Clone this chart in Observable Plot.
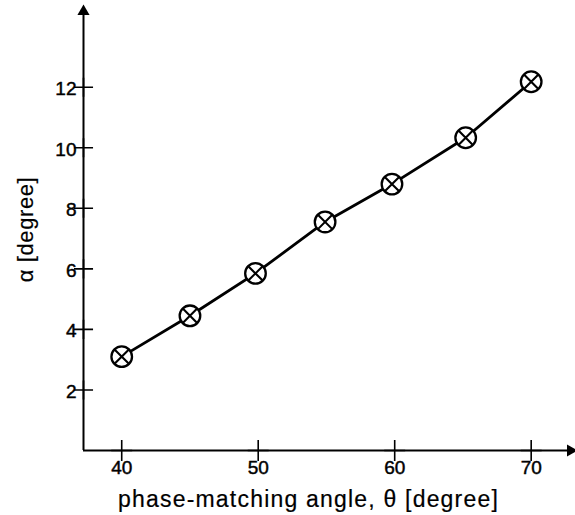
<!DOCTYPE html>
<html><head><meta charset="utf-8">
<script src="https://cdn.jsdelivr.net/npm/d3@7"></script>
<script src="https://cdn.jsdelivr.net/npm/@observablehq/plot@0.6"></script>
<style>
html,body{margin:0;padding:0;background:#fff;}
svg{display:block;}
</style></head>
<body><div id="chart"></div>
<script>
const theta = [40, 45, 49.8, 54.9, 59.8, 65.2, 70];
const alpha = [3.1, 4.45, 5.85, 7.55, 8.8, 10.33, 12.18];
const xTicks = [40, 50, 60, 70];
const yTicks = [2, 4, 6, 8, 10, 12];
const xDomain = [37.2, 73.1];
const yDomain = [0, 14.6];
const xLabel = "phase-matching angle, θ [degree]";
const yLabel = "α [degree]";

const pts = theta.map((t, i) => ({t, a: alpha[i]}));
const font = "'Liberation Sans', Arial, Helvetica, sans-serif";

const chart = Plot.plot({
  width: 575, height: 515,
  marginLeft: 83, marginRight: 2, marginTop: 8, marginBottom: 65,
  style: {fontFamily: font, background: "#fff"},
  x: {domain: xDomain, axis: null},
  y: {domain: yDomain, axis: null},
  marks: [
    Plot.ruleY([yDomain[0]], {stroke: "#000", strokeWidth: 2}),
    Plot.ruleX([xDomain[0]], {stroke: "#000", strokeWidth: 2}),
    Plot.dot([xDomain[1]], {x: d => d, y: yDomain[0], symbol: "triangle", rotate: 90, r: 4.5, fill: "#000", stroke: "none", dx: -3}),
    Plot.dot([yDomain[1]], {x: xDomain[0], y: d => d, symbol: "triangle", r: 4.5, fill: "#000", stroke: "none", dy: 3}),
    Plot.dot(xTicks, {x: d => d, y: yDomain[0], symbol: "plus", r: 6.8, stroke: "#000", strokeWidth: 1.6}),
    Plot.dot(yTicks, {x: xDomain[0], y: d => d, symbol: "plus", r: 6.2, stroke: "#000", strokeWidth: 1.6}),
    Plot.text(xTicks, {x: d => d, y: yDomain[0], text: d => String(d), dy: 17, fontSize: 19, fill: "#000", stroke: "#000", strokeWidth: 0.45}),
    Plot.text(yTicks, {x: xDomain[0], y: d => d, text: d => String(d), dx: -7, dy: 2, textAnchor: "end", fontSize: 19, fill: "#000", stroke: "#000", strokeWidth: 0.45}),
    Plot.line(pts, {x: "t", y: "a", stroke: "#000", strokeWidth: 2.8}),
    Plot.dot(pts, {x: "t", y: "a", r: 10.3, fill: "#fff", stroke: "#000", strokeWidth: 2.3}),
    Plot.dot(pts, {x: "t", y: "a", symbol: "times", r: 6.6, stroke: "#000", strokeWidth: 2.1}),
    Plot.text([xLabel], {x: (xDomain[0] + xDomain[1]) / 2, y: yDomain[0], text: d => d, dy: 49, dx: -20, fontSize: 23, fill: "#000", stroke: "#000", strokeWidth: 0.2}),
    Plot.text([yLabel], {x: xDomain[0], y: (yDomain[0] + yDomain[1]) / 2, text: d => d, dx: -58, rotate: -90, fontSize: 22, fill: "#000", stroke: "#000", strokeWidth: 0.2})
  ]
});
d3.select(chart).selectAll("text").filter(function() { return this.textContent === xLabel; }).style("letter-spacing", "1.2px");
d3.select(chart).selectAll("text").filter(function() { return this.textContent === yLabel; }).style("letter-spacing", "0.6px");
document.getElementById("chart").append(chart);
</script></body></html>
